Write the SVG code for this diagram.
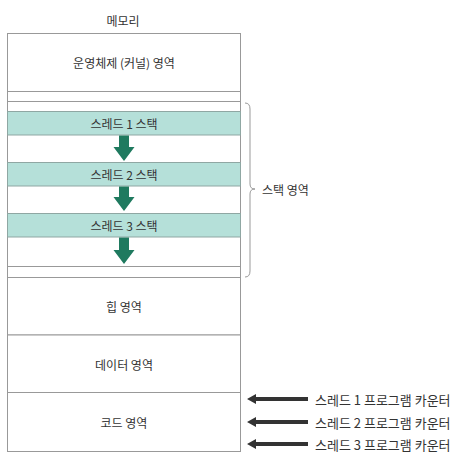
<svg xmlns="http://www.w3.org/2000/svg" width="465" height="463" viewBox="0 0 465 463">
<style>
text{font-family:"Noto Sans CJK KR","Noto Sans",sans-serif;font-size:12px;fill:#333;}
.c{text-anchor:middle;dominant-baseline:central;}
.l{dominant-baseline:central;}
.p{font-size:13px;}
.box{fill:#fff;stroke:#999;stroke-width:1;}
.teal{fill:#b5e0d9;stroke:#8fa7a3;stroke-width:1;}
.g{fill:#1f7a5f;}
.pc{fill:#333;}
.br{fill:none;stroke:#999;stroke-width:1;}
</style>
<rect width="465" height="463" fill="#fff"/>
<text class="c" x="123" y="20">메모리</text>
<g id="kernel"><rect class="box" x="7.5" y="33.5" width="233" height="58"/><text class="c" x="124" y="62">운영체제 (커널) 영역</text></g>
<g id="stack-area">
<rect class="box" x="7.5" y="91.5" width="233" height="186"/>
<line x1="7.5" y1="101.5" x2="240.5" y2="101.5" stroke="#999"/>
<line x1="7.5" y1="266.5" x2="240.5" y2="266.5" stroke="#999"/>
</g>
<g id="stack1"><rect class="teal" x="7.5" y="111.5" width="233" height="23.5"/><text class="c" x="124" y="123">스레드 1 스택</text></g>
<g id="stack2"><rect class="teal" x="7.5" y="162.5" width="233" height="23.5"/><text class="c" x="124" y="174">스레드 2 스택</text></g>
<g id="stack3"><rect class="teal" x="7.5" y="213.5" width="233" height="23.5"/><text class="c" x="124" y="225">스레드 3 스택</text></g>
<g id="heap"><rect class="box" x="7.5" y="277.5" width="233" height="57.5"/><text class="c" x="124" y="306">힙 영역</text></g>
<g id="data"><rect class="box" x="7.5" y="335" width="233" height="57.5"/><text class="c" x="124" y="364">데이터 영역</text></g>
<g id="code"><rect class="box" x="7.5" y="392.5" width="233" height="59"/><text class="c" x="124" y="422">코드 영역</text></g>
<g id="connectors">
<polygon class="g" points="119,135.5 129,135.5 129,147 134.5,147 124,161 113.5,147 119,147"/>
<polygon class="g" points="119,186.5 129,186.5 129,197 134.5,197 124,211 113.5,197 119,197"/>
<polygon class="g" points="119,237.5 129,237.5 129,250 134.5,250 124,264 113.5,250 119,250"/>
<path class="br" d="M245,103 Q250,103 250,109 L250,184 Q250,189 255,189 Q250,189 250,194 L250,271 Q250,277 245,277"/>
<polygon class="pc" points="247,399 256,394 256,397 308,397 308,401 256,401 256,404"/>
<polygon class="pc" points="247,422 256,417 256,420 308,420 308,424 256,424 256,427"/>
<polygon class="pc" points="247,444 256,439 256,442 308,442 308,446 256,446 256,449"/>
</g>
<g id="stack-label"><text class="l" x="262" y="189">스택 영역</text></g>
<g id="pc1"><text class="l p" x="315" y="399">스레드 1 프로그램 카운터</text></g>
<g id="pc2"><text class="l p" x="315" y="422">스레드 2 프로그램 카운터</text></g>
<g id="pc3"><text class="l p" x="315" y="444">스레드 3 프로그램 카운터</text></g>
</svg>
